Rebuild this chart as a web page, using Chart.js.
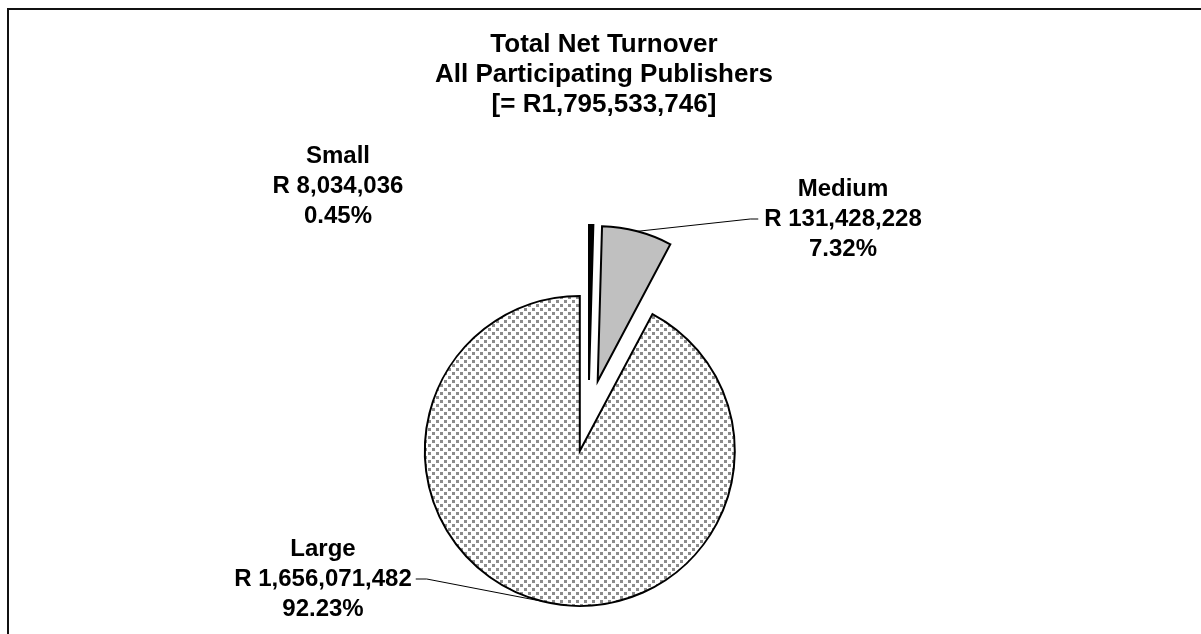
<!DOCTYPE html>
<html>
<head>
<meta charset="utf-8">
<script src="https://cdn.jsdelivr.net/npm/chart.js@4.4.1/dist/chart.umd.min.js"></script>
<style>
  html, body { margin: 0; padding: 0; background: #fff; overflow: hidden; }
  #wrap { position: relative; width: 1201px; height: 634px; }
</style>
</head>
<body>
<div id="wrap"><canvas id="pieChart"></canvas></div>
<script>
const titleLines = ['Total Net Turnover', 'All Participating Publishers', '[= R1,795,533,746]'];
const categories = ['Small', 'Medium', 'Large'];
const turnover = [8034036, 131428228, 1656071482];
const shares = ['0.45%', '7.32%', '92.23%'];

// where each label block sits (centre x, middle line y) and which side its leader leaves from
const labelX = [338, 843, 323];
const labelY = [186, 219, 579];
const leaderSide = [null, 'left', 'right'];

const explodeDist = 36;
const font = 'Liberation Sans, Arial, sans-serif';

const canvas = document.getElementById('pieChart');
const ctx = canvas.getContext('2d');

// grey dotted fill for the big slice
function dotPattern() {
    const tile = document.createElement('canvas');
    tile.width = 8;
    tile.height = 8;
    const g = tile.getContext('2d');
    g.fillStyle = '#ffffff';
    g.fillRect(0, 0, 8, 8);
    g.fillStyle = '#8c8c8c';
    g.fillRect(0, 0, 3, 3);
    g.fillRect(4, 4, 3, 3);
    return ctx.createPattern(tile, 'repeat');
}

function money(v) {
    return 'R ' + v.toLocaleString('en-US');
}

// push every slice out along its middle angle
const explode = {
    id: 'explode',
    afterDatasetsUpdate(chart) {
        chart.getDatasetMeta(0).data.forEach(arc => {
            const mid = (arc.startAngle + arc.endAngle) / 2;
            arc.x += Math.cos(mid) * explodeDist;
            arc.y += Math.sin(mid) * explodeDist;
        });
    }
};

const annotate = {
    id: 'annotate',
    afterDraw(chart) {
        const c = chart.ctx;
        c.save();

        // frame
        c.fillStyle = '#111';
        c.fillRect(7, 8, chart.width, 2);
        c.fillRect(7, 8, 2, chart.height);

        c.fillStyle = '#000';
        c.textAlign = 'center';
        c.textBaseline = 'middle';
        c.font = 'bold 26px ' + font;
        titleLines.forEach((t, i) => c.fillText(t, 604, 45 + i * 30));

        c.font = 'bold 24px ' + font;
        const arcs = chart.getDatasetMeta(0).data;
        categories.forEach((name, i) => {
            const x = labelX[i];
            const y = labelY[i];
            const valueText = money(turnover[i]);
            c.fillText(name, x, y - 30);
            c.fillText(valueText, x, y);
            c.fillText(shares[i], x, y + 30);

            if (!leaderSide[i]) return;
            const arc = arcs[i];
            const mid = (arc.startAngle + arc.endAngle) / 2;
            const px = arc.x + Math.cos(mid) * arc.outerRadius;
            const py = arc.y + Math.sin(mid) * arc.outerRadius;
            const half = c.measureText(valueText).width / 2;
            const sx = leaderSide[i] === 'right' ? x + half + 4 : x - half - 6;
            const kx = leaderSide[i] === 'right' ? sx + 11 : sx - 8;
            c.strokeStyle = '#000';
            c.lineWidth = 1;
            c.beginPath();
            c.moveTo(sx, y);
            c.lineTo(kx, y);
            c.lineTo(px, py);
            c.stroke();
        });
        c.restore();
    }
};

const pieChart = new Chart(ctx, {
    type: 'pie',
    data: {
        labels: categories,
        datasets: [{
            data: turnover,
            backgroundColor: ['#000000', '#c0c0c0', dotPattern()],
            borderColor: '#000000',
            borderWidth: 2,
            borderJoinStyle: 'miter',
            radius: 155
        }]
    },
    options: {
        responsive: true,
        maintainAspectRatio: false,
        animation: false,
        events: [],
        layout: {
            padding: { top: 198, right: 24, bottom: 0, left: 0 }
        },
        plugins: {
            legend: { display: false },
            tooltip: { enabled: false },
            title: { display: false }
        }
    },
    plugins: [explode, annotate]
});
</script>
</body>
</html>
